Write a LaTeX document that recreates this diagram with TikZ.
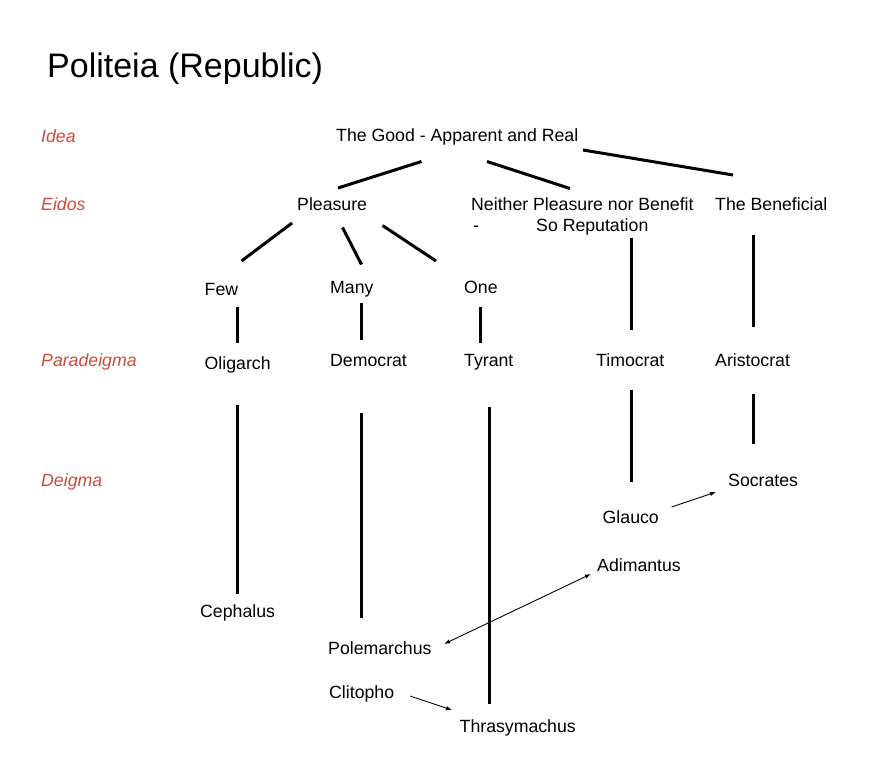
\documentclass[tikz,border=0pt]{standalone}
\usepackage{fontspec}
\setmainfont{Liberation Sans}
\usetikzlibrary{arrows.meta}
\definecolor{lvlred}{HTML}{D04A3C}
\begin{document}
\begin{tikzpicture}[x=1pt,y=-1pt,
  txt/.style={anchor=base west,inner sep=0pt,font=\fontsize{17.7}{21}\selectfont},
  lvl/.style={anchor=base west,inner sep=0pt,text=lvlred,font=\fontsize{17.7}{21}\selectfont\itshape},
  ttl/.style={anchor=base west,inner sep=0pt,font=\fontsize{34}{40}\selectfont},
  bar/.style={line width=3pt},
  link/.style={line width=0.9pt,-{Latex[length=6pt,width=4.2pt]}},
  dlink/.style={line width=0.9pt,{Latex[length=6pt,width=4.2pt]}-{Latex[length=6pt,width=4.2pt]}}]
\useasboundingbox (0,0) rectangle (869,776);
\fill[white] (0,0) rectangle (869,776);

% title and level labels
\node[ttl] (title) at (47,77.5) {Politeia (Republic)};
\node[lvl] (lidea) at (41,142.5) {Idea};
\node[lvl] (leidos) at (41,210) {Eidos};
\node[lvl] (lpara) at (41,366) {Paradeigma};
\node[lvl] (ldeig) at (41,486) {Deigma};

% idea / eidos
\node[txt] (good) at (336,141.5) {The Good - Apparent and Real};
\node[txt] (pleasure) at (297,210) {Pleasure};
\node[txt] (neither) at (471,210) {Neither Pleasure nor Benefit};
\node[txt] (dash) at (473,231.5) {-};
\node[txt] (reput) at (536,231.5) {So Reputation};
\node[txt] (benef) at (715,210) {The Beneficial};

\node[txt] (few) at (204.5,295.5) {Few};
\node[txt] (many) at (330,293) {Many};
\node[txt] (one) at (464,293) {One};

% paradeigma
\node[txt] (olig) at (204.5,369) {Oligarch};
\node[txt] (demo) at (330,366.5) {Democrat};
\node[txt] (tyra) at (464,366.5) {Tyrant};
\node[txt] (timo) at (596,366) {Timocrat};
\node[txt] (aris) at (715,366) {Aristocrat};

% deigma
\node[txt] (socr) at (728,486) {Socrates};
\node[txt] (glau) at (602.5,523) {Glauco};
\node[txt] (adim) at (597,571) {Adimantus};
\node[txt] (ceph) at (200,617) {Cephalus};
\node[txt] (pole) at (328,654.5) {Polemarchus};
\node[txt] (clit) at (329,698) {Clitopho};
\node[txt] (thra) at (459.5,732) {Thrasymachus};

% connector end points
\coordinate (g1a) at (338,188);   \coordinate (g1b) at (421.5,161.5);
\coordinate (g2a) at (487,161.5); \coordinate (g2b) at (570,188.5);
\coordinate (g3a) at (583,150);   \coordinate (g3b) at (733,175);
\coordinate (p1a) at (292,223);   \coordinate (p1b) at (241.5,261);
\coordinate (p2a) at (342.5,227.5); \coordinate (p2b) at (361.5,264.5);
\coordinate (p3a) at (382.5,225.5); \coordinate (p3b) at (436,261);
\coordinate (fa) at (237.5,306.5); \coordinate (fb) at (237.5,342.5);
\coordinate (ma) at (361.5,303);   \coordinate (mb) at (361.5,339.5);
\coordinate (oa) at (480,306.5);   \coordinate (ob) at (480,342.5);
\coordinate (ola) at (237.5,405);  \coordinate (olb) at (237.5,593.5);
\coordinate (dea) at (361.5,413);  \coordinate (deb) at (361.5,618);
\coordinate (tya) at (489.5,407);  \coordinate (tyb) at (489.5,704);
\coordinate (nea) at (631,238);    \coordinate (neb) at (631,330);
\coordinate (tia) at (631,390);    \coordinate (tib) at (631,482);
\coordinate (bea) at (753.5,235);  \coordinate (beb) at (753.5,327);
\coordinate (ara) at (753.5,394);  \coordinate (arb) at (753.5,444);
\coordinate (gla) at (671.5,507);  \coordinate (glb) at (716,492);
\coordinate (poa) at (444,644);    \coordinate (pob) at (591,574);
\coordinate (cla) at (410,696);    \coordinate (clb) at (452,710);

% thick tree lines
\draw[bar] (g1a) -- (g1b);
\draw[bar] (g2a) -- (g2b);
\draw[bar] (g3a) -- (g3b);
\draw[bar] (p1a) -- (p1b);
\draw[bar] (p2a) -- (p2b);
\draw[bar] (p3a) -- (p3b);
\draw[bar] (fa) -- (fb);
\draw[bar] (ma) -- (mb);
\draw[bar] (oa) -- (ob);
\draw[bar] (ola) -- (olb);
\draw[bar] (dea) -- (deb);
\draw[bar] (tya) -- (tyb);
\draw[bar] (nea) -- (neb);
\draw[bar] (tia) -- (tib);
\draw[bar] (bea) -- (beb);
\draw[bar] (ara) -- (arb);

% thin arrows
\draw[link] (gla) -- (glb);
\draw[dlink] (poa) -- (pob);
\draw[link] (cla) -- (clb);
\end{tikzpicture}
\end{document}
